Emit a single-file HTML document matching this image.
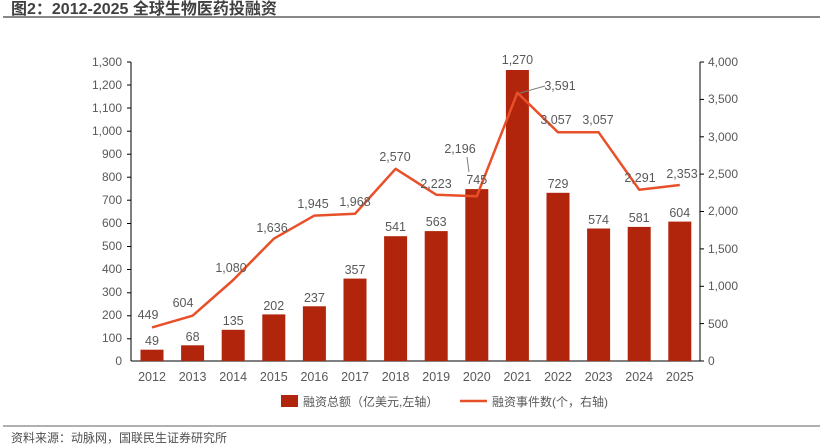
<!DOCTYPE html>
<html><head><meta charset="utf-8"><style>
body{margin:0;background:#fff;width:820px;height:448px;overflow:hidden}
svg{display:block;font-family:"Liberation Sans","Noto Sans CJK SC",sans-serif}
</style></head><body>
<svg width="820" height="448" xmlns="http://www.w3.org/2000/svg">
<text x="11" y="14" font-size="16" font-weight="bold" fill="#404040">图2：2012-2025 全球生物医药投融资</text>
<line x1="3" y1="17" x2="820" y2="17" stroke="#606060" stroke-width="1.5"/>
<line x1="3" y1="426" x2="820" y2="426" stroke="#606060" stroke-width="1"/>
<text x="11" y="442" font-size="12" fill="#505050">资料来源：动脉网，国联民生证券研究所</text>
<g font-size="12" fill="#595959" text-anchor="end">
<line x1="131" y1="62" x2="131" y2="361" stroke="#000"/>
<g stroke="#000">
<line x1="127" y1="62" x2="131" y2="62"/><line x1="127" y1="85" x2="131" y2="85"/><line x1="127" y1="108" x2="131" y2="108"/><line x1="127" y1="131.2" x2="131" y2="131.2"/><line x1="127" y1="154.2" x2="131" y2="154.2"/><line x1="127" y1="177.2" x2="131" y2="177.2"/><line x1="127" y1="200.2" x2="131" y2="200.2"/><line x1="127" y1="223.5" x2="131" y2="223.5"/><line x1="127" y1="246.5" x2="131" y2="246.5"/><line x1="127" y1="269.5" x2="131" y2="269.5"/><line x1="127" y1="292.8" x2="131" y2="292.8"/><line x1="127" y1="315.8" x2="131" y2="315.8"/><line x1="127" y1="338.8" x2="131" y2="338.8"/>
</g>
<text x="122" y="66">1,300</text><text x="122" y="89">1,200</text><text x="122" y="112">1,100</text><text x="122" y="135">1,000</text><text x="122" y="158">900</text><text x="122" y="181">800</text><text x="122" y="204">700</text><text x="122" y="227">600</text><text x="122" y="250">500</text><text x="122" y="273">400</text><text x="122" y="296">300</text><text x="122" y="319">200</text><text x="122" y="342">100</text><text x="122" y="365">0</text>
</g>
<line x1="131" y1="361" x2="700" y2="361" stroke="#000"/>
<g font-size="12" fill="#595959">
<line x1="700" y1="62" x2="700" y2="361" stroke="#000"/>
<g stroke="#000">
<line x1="700" y1="62" x2="704" y2="62"/><line x1="700" y1="99.4" x2="704" y2="99.4"/><line x1="700" y1="136.8" x2="704" y2="136.8"/><line x1="700" y1="174.1" x2="704" y2="174.1"/><line x1="700" y1="211.5" x2="704" y2="211.5"/><line x1="700" y1="248.9" x2="704" y2="248.9"/><line x1="700" y1="286.3" x2="704" y2="286.3"/><line x1="700" y1="323.6" x2="704" y2="323.6"/><line x1="700" y1="361" x2="704" y2="361"/>
</g>
<text x="708" y="66">4,000</text><text x="708" y="103">3,500</text><text x="708" y="141">3,000</text><text x="708" y="178">2,500</text><text x="708" y="215">2,000</text><text x="708" y="253">1,500</text><text x="708" y="290">1,000</text><text x="708" y="328">500</text><text x="708" y="365">0</text>
</g>
<g fill="#b0250b">
<rect x="140.5" y="349.7" width="23" height="11.3"/>
<rect x="181.1" y="345.3" width="23" height="15.7"/>
<rect x="221.7" y="329.8" width="23" height="31.2"/>
<rect x="262.3" y="314.4" width="23" height="46.6"/>
<rect x="302.9" y="306.3" width="23" height="54.7"/>
<rect x="343.5" y="278.6" width="23" height="82.4"/>
<rect x="384.1" y="236.2" width="23" height="124.8"/>
<rect x="424.7" y="231.1" width="23" height="129.9"/>
<rect x="465.3" y="189.1" width="23" height="171.9"/>
<rect x="505.9" y="70" width="23" height="291"/>
<rect x="546.5" y="192.8" width="23" height="168.2"/>
<rect x="587.1" y="228.5" width="23" height="132.5"/>
<rect x="627.7" y="226.9" width="23" height="134.1"/>
<rect x="668.3" y="221.6" width="23" height="139.4"/>
</g>
<polyline fill="none" stroke="#e8502a" stroke-width="2.5" stroke-linejoin="round" points="152,327.4 192.6,315.7 233.2,280 273.8,238.7 314.4,215.6 355,213.8 395.6,168.8 436.2,194.7 476.8,196.3 517.4,92.7 558,132.3 598.6,132.3 639.2,189.7 679.8,185"/>
<g font-size="12.5" fill="#595959" text-anchor="middle">
<text x="152" y="345">49</text><text x="192.6" y="341">68</text><text x="233.2" y="325">135</text><text x="273.8" y="310">202</text><text x="314.4" y="302">237</text><text x="355" y="274">357</text><text x="395.6" y="231">541</text><text x="436.2" y="226">563</text><text x="476.8" y="184">745</text><text x="517.4" y="64">1,270</text><text x="558" y="188">729</text><text x="598.6" y="224">574</text><text x="639.2" y="222">581</text><text x="679.8" y="217">604</text>
<text x="148" y="319">449</text><text x="183" y="307">604</text><text x="231" y="272">1,080</text><text x="272" y="232">1,636</text><text x="313" y="208">1,945</text><text x="355" y="206">1,968</text><text x="395" y="161">2,570</text><text x="436" y="188">2,223</text><text x="460" y="153">2,196</text><text x="560" y="90">3,591</text><text x="556" y="124">3,057</text><text x="598" y="124">3,057</text><text x="640" y="182">2,291</text><text x="682" y="178">2,353</text>
</g>
<line x1="467" y1="157" x2="469" y2="172" stroke="#7f7f7f"/>
<line x1="520" y1="93" x2="545" y2="86" stroke="#7f7f7f"/>
<g font-size="12.5" fill="#595959" text-anchor="middle">
<text x="152" y="381">2012</text><text x="192.6" y="381">2013</text><text x="233.2" y="381">2014</text><text x="273.8" y="381">2015</text><text x="314.4" y="381">2016</text><text x="355" y="381">2017</text><text x="395.6" y="381">2018</text><text x="436.2" y="381">2019</text><text x="476.8" y="381">2020</text><text x="517.4" y="381">2021</text><text x="558" y="381">2022</text><text x="598.6" y="381">2023</text><text x="639.2" y="381">2024</text><text x="679.8" y="381">2025</text>
</g>
<rect x="281" y="395" width="17" height="12" fill="#b0250b"/>
<text x="303" y="406" font-size="12" fill="#595959">融资总额（亿美元,左轴）</text>
<line x1="460" y1="401" x2="487" y2="401" stroke="#e8502a" stroke-width="2.5"/>
<text x="492" y="406" font-size="12" fill="#595959">融资事件数(个，右轴)</text>
</svg>
</body></html>
